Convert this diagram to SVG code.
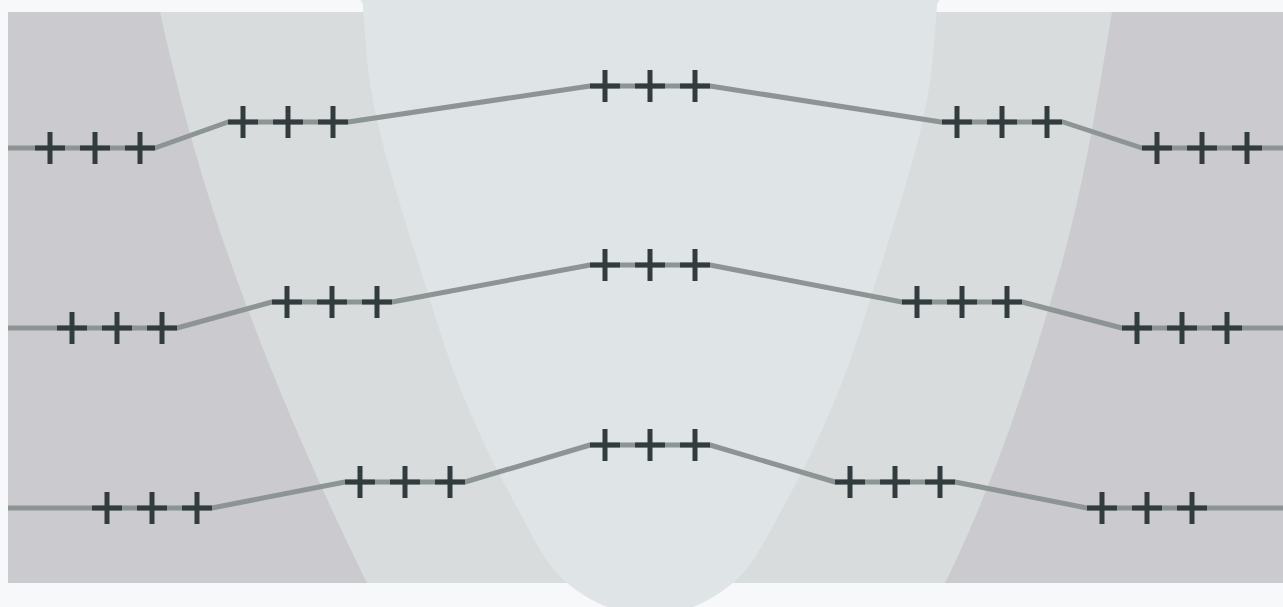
<svg xmlns="http://www.w3.org/2000/svg" xmlns:xlink="http://www.w3.org/1999/xlink" width="1283" height="607" viewBox="0 0 1283 607">
<style>
.bg{fill:#f7f8f9}
.base{fill:#cbcace}
.band{fill:#d8dcdd}
.core{fill:#dfe4e7}
.wire{fill:none;stroke:#8c9494;stroke-width:5;stroke-linejoin:round}
.x{stroke:#323c3f;stroke-width:5;fill:none}
</style>
<defs>
<path id="cross" class="x" d="M-15 0H15M0 -16V16"/>
<g id="tri">
<use xlink:href="#cross" x="0"/>
<use xlink:href="#cross" x="45"/>
<use xlink:href="#cross" x="90"/>
</g>
</defs>
<rect class="bg" x="0" y="0" width="1283" height="607"/>
<g id="zones">
<rect class="base" x="8" y="12" width="1275" height="571"/>
<path class="band" d="M160 12 C179.7 101.3 202.5 184.8 237 280 C271.5 375.2 317 482 367 583 L945 583 C995 482 1029.2 375.2 1057 280 C1084.8 184.8 1097 101.3 1112 12 Z"/>
<path class="core" d="M355 -2 Q362 -2 363 6 C366 40 366 70 377 120 C388.2 170 415.3 253.3 430 300 C444.7 346.7 451.2 366.7 465 400 C478.8 433.3 496 469.5 513 500 C530 530.5 544.2 563.7 567 583 C589.8 602.3 622.3 616 650 616 C677.7 616 710.2 602.3 733 583 C755.8 563.7 770 530.5 787 500 C804 469.5 821.2 433.3 835 400 C848.8 366.7 855.3 346.7 870 300 C884.7 253.3 911.8 170 923 120 C934 70 934 40 937 6 Q938 -2 945 -2 Z"/>
</g>
<g id="connectors">
<polyline class="wire" points="8,148 155,148 228,122 348,122 590,86 710,86 941,122 1063,122 1142,148 1283,148"/>
<polyline class="wire" points="8,328 177,328 272,302 392,302 590,265 710,265 902,302 1022,302 1122,328 1283,328"/>
<polyline class="wire" points="8,508 212,508 345,482 465,482 590,445 710,445 835,482 955,482 1087,508 1283,508"/>
</g>
<g id="r1a"><use xlink:href="#tri" x="50" y="148"/></g>
<g id="r1b"><use xlink:href="#tri" x="243" y="122"/></g>
<g id="r1c"><use xlink:href="#tri" x="605" y="86"/></g>
<g id="r1d"><use xlink:href="#tri" x="957" y="122"/></g>
<g id="r1e"><use xlink:href="#tri" x="1157" y="148"/></g>
<g id="r2a"><use xlink:href="#tri" x="72" y="328"/></g>
<g id="r2b"><use xlink:href="#tri" x="287" y="302"/></g>
<g id="r2c"><use xlink:href="#tri" x="605" y="265"/></g>
<g id="r2d"><use xlink:href="#tri" x="917" y="302"/></g>
<g id="r2e"><use xlink:href="#tri" x="1137" y="328"/></g>
<g id="r3a"><use xlink:href="#tri" x="107" y="508"/></g>
<g id="r3b"><use xlink:href="#tri" x="360" y="482"/></g>
<g id="r3c"><use xlink:href="#tri" x="605" y="445"/></g>
<g id="r3d"><use xlink:href="#tri" x="850" y="482"/></g>
<g id="r3e"><use xlink:href="#tri" x="1102" y="508"/></g>
</svg>
